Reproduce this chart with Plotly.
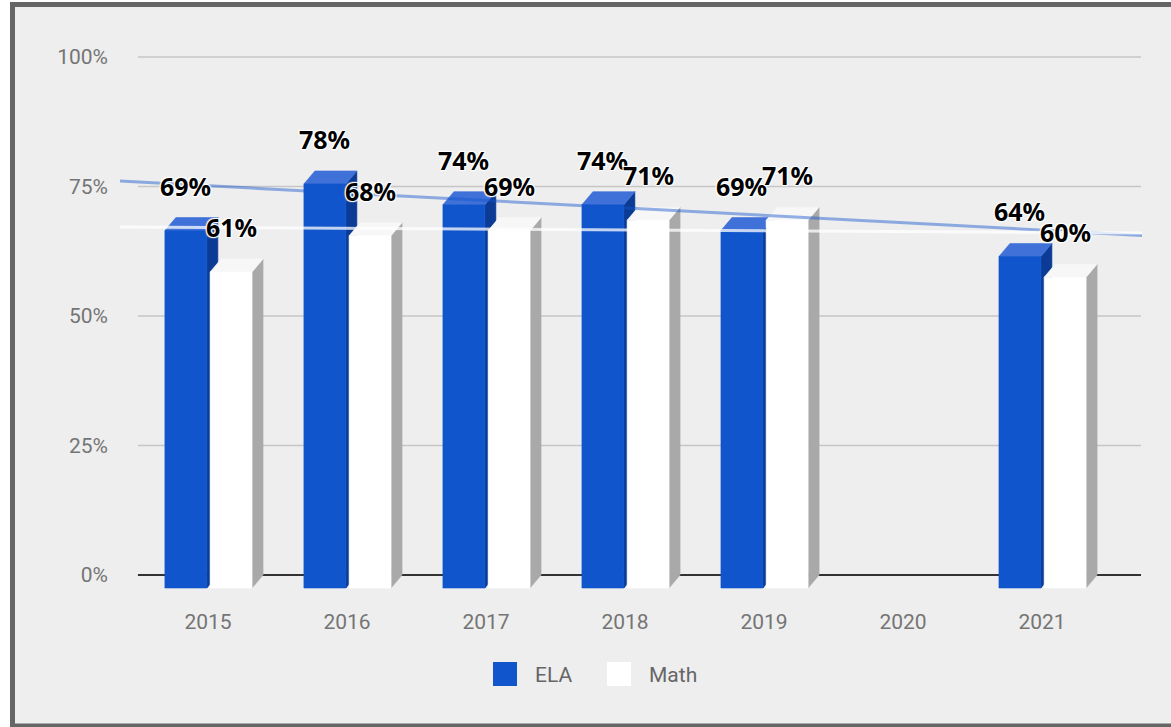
import numpy as np
import plotly.graph_objects as go

# ---- data -------------------------------------------------------------
years = ["2015", "2016", "2017", "2018", "2019", "2020", "2021"]
ela = [69, 78, 74, 74, 69, None, 64]
math_scores = [61, 68, 69, 71, 71, None, 60]
y_ticks = [0, 25, 50, 75, 100]
y_tick_labels = ["0%", "25%", "50%", "75%", "100%"]
series_names = ["ELA", "Math"]

# ---- geometry / style -------------------------------------------------
W, H = 1171, 727
L_M, R_M, T_M, B_M = 120, 29, 40, 127
PLOT_W = W - L_M - R_M
PLOT_H = H - T_M - B_M
X_RANGE = [-0.633, 6.719]
Y_RANGE = [-4.826, 103.28]

BAR_W = 0.302          # front face width (category units)
ELA_OFF = -0.31        # left edge of ELA front face relative to category
MATH_OFF = 0.015       # left edge of Math front face relative to category
DX = 0.079             # 3D depth, horizontal (category units)
DY = 2.51              # 3D depth, vertical (percent units)

ELA_COLORS = dict(front="#1155cc", top="#3f71d8", side="#0b3b95")
MATH_COLORS = dict(front="#ffffff", top="#f7f7f7", side="#a9a9a9")

BG = "#eeeeee"
TICK_COLOR = "#757575"


def px_to_paper(px, py):
    return (px - L_M) / PLOT_W, (H - B_M - py) / PLOT_H


def bar_faces(values, off):
    """Polygons for the front, top and side faces of each 3D bar."""
    fx, fy, tx, ty, sx, sy = [], [], [], [], [], []
    for i, v in enumerate(values):
        if v is None:
            continue
        x0 = i + off
        x1 = x0 + BAR_W
        fx += [x0, x1, x1, x0, x0, None]
        fy += [-DY, -DY, v - DY, v - DY, -DY, None]
        tx += [x0, x1, x1 + DX, x0 + DX, x0, None]
        ty += [v - DY, v - DY, v, v, v - DY, None]
        sx += [x1, x1 + DX, x1 + DX, x1, x1, None]
        sy += [-DY, 0, v, v - DY, -DY, None]
    return (fx, fy), (tx, ty), (sx, sy)


def poly(xy, color):
    return go.Scatter(
        x=xy[0], y=xy[1], mode="lines", fill="toself", fillcolor=color,
        line=dict(color=color, width=0.6), hoverinfo="skip", showlegend=False,
    )


fig = go.Figure()

# bars: ELA first, Math drawn over ELA's side face
for values, off, cols in [(ela, ELA_OFF, ELA_COLORS), (math_scores, MATH_OFF, MATH_COLORS)]:
    front, top, side = bar_faces(values, off)
    fig.add_trace(poly(side, cols["side"]))
    fig.add_trace(poly(top, cols["top"]))
    fig.add_trace(poly(front, cols["front"]))

# linear trendlines across the plotting area
for values, color in [(ela, "rgba(17,85,204,0.45)"), (math_scores, "rgba(255,255,255,0.75)")]:
    xs = np.array([i for i, v in enumerate(values) if v is not None], dtype=float)
    ys = np.array([v for v in values if v is not None], dtype=float)
    slope, intercept = np.polyfit(xs, ys, 1)
    tx = np.array(X_RANGE)
    fig.add_trace(go.Scatter(
        x=tx, y=slope * tx + intercept, mode="lines",
        line=dict(color=color, width=3), hoverinfo="skip", showlegend=False,
    ))

# value labels
label_font = dict(
    family="Noto Sans", size=25, color="#000000", weight="bold",
    shadow="1px 1px 1px #fff, -1px -1px 1px #fff, 1px -1px 1px #fff, -1px 1px 1px #fff",
)
annotations = []
for values, off in [(ela, ELA_OFF), (math_scores, MATH_OFF)]:
    for i, v in enumerate(values):
        if v is None:
            continue
        annotations.append(dict(
            x=i + off + BAR_W / 2, y=v, xref="x", yref="y", yshift=32,
            text=f"{v}%", showarrow=False, font=label_font,
            xanchor="center", yanchor="middle",
        ))

# gridlines and baseline
shapes = []
grid_x0, grid_x1 = -0.504, 6.712
for t in y_ticks:
    shapes.append(dict(
        type="line", xref="x", yref="y", x0=grid_x0, x1=grid_x1, y0=t, y1=t,
        line=dict(color="#333333" if t == 0 else "#c6c6c6", width=2 if t == 0 else 1.5),
        layer="below",
    ))

# framed background
bx0, by0 = px_to_paper(12.5, 4.5)
bx1, by1 = px_to_paper(1190, 726)
shapes.append(dict(
    type="rect", xref="paper", yref="paper", x0=bx0, x1=bx1, y0=by1, y1=by0,
    fillcolor=BG, line=dict(color="#666666", width=5), layer="below",
))

# legend
legend_items = [(series_names[0], ELA_COLORS["front"], 493), (series_names[1], MATH_COLORS["front"], 607)]
for name, color, left in legend_items:
    lx0, ly0 = px_to_paper(left, 662)
    lx1, ly1 = px_to_paper(left + 24, 686)
    shapes.append(dict(
        type="rect", xref="paper", yref="paper", x0=lx0, x1=lx1, y0=ly1, y1=ly0,
        fillcolor=color, line=dict(width=0),
    ))
    tx, ty = px_to_paper(left + 40, 675)
    annotations.append(dict(
        x=tx, y=ty, xref="paper", yref="paper", text=name, showarrow=False,
        xanchor="left", yanchor="middle",
        font=dict(family="Roboto", size=21, color="#666666"),
    ))

fig.update_layout(
    width=W, height=H,
    margin=dict(l=L_M, r=R_M, t=T_M, b=B_M, pad=0),
    paper_bgcolor="#ffffff",
    plot_bgcolor="rgba(0,0,0,0)",
    showlegend=False,
    shapes=shapes,
    annotations=annotations,
    xaxis=dict(
        range=X_RANGE, tickmode="array", tickvals=list(range(len(years))), ticktext=years,
        showgrid=False, zeroline=False, showline=False, ticks="",
        tickfont=dict(family="Roboto", size=21, color=TICK_COLOR),
        ticklabelstandoff=7, fixedrange=True,
    ),
    yaxis=dict(
        range=Y_RANGE, tickmode="array", tickvals=y_ticks, ticktext=y_tick_labels,
        showgrid=False, zeroline=False, showline=False, ticks="",
        tickfont=dict(family="Roboto", size=21, color=TICK_COLOR),
        ticklabelstandoff=11, fixedrange=True,
    ),
)

fig.write_html("out.html")
